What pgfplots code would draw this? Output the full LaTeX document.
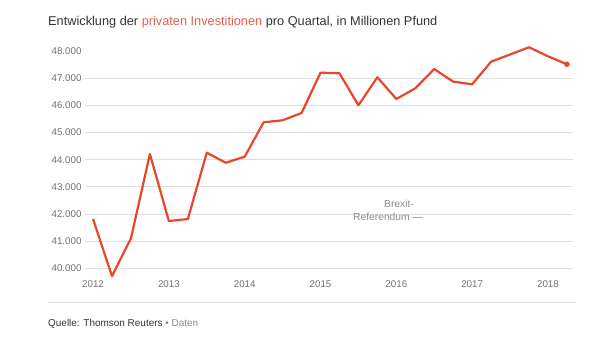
\documentclass[border=0pt]{standalone}
\usepackage{fontspec}
\setmainfont{Liberation Sans}
\usepackage{pgfplots}
\pgfplotsset{compat=1.18}
\definecolor{linecol}{HTML}{E8472C}
\definecolor{titlered}{HTML}{E0604F}
\definecolor{gridcol}{HTML}{DEDEDE}
\definecolor{tickcol}{HTML}{707070}
\definecolor{titlecol}{HTML}{333333}
\definecolor{annocol}{HTML}{8A8A8A}
\begin{document}
\begin{tikzpicture}
\path[use as bounding box] (0,0) rectangle (603bp,-346bp);
\begin{axis}[
  at={(85bp,-279.2bp)}, anchor=south west,
  scale only axis, width=488bp, height=236.2bp,
  xmin=2011.894, xmax=2018.33,
  ymin=39600, ymax=48300,
  scaled y ticks=false,
  axis line style={draw=none},
  clip=false,
  xtick={2012,2013,2014,2015,2016,2017,2018},
  xticklabels={2012,2013,2014,2015,2016,2017,2018},
  ytick={40000,41000,42000,43000,44000,45000,46000,47000},
  yticklabels={40.000,41.000,42.000,43.000,44.000,45.000,46.000,47.000},
  extra y ticks={48000},
  extra y tick labels={48.000},
  extra y tick style={grid=none},
  ymajorgrids,
  major grid style={gridcol, line width=0.8bp},
  tick style={draw=none},
  yticklabel style={font=\fontsize{9.8}{11}\selectfont, text=tickcol, anchor=east, xshift=0bp},
  xticklabel style={font=\fontsize{9.8}{11}\selectfont, text=tickcol, anchor=center, yshift=-5bp},
]
\addplot[linecol, line width=2.2bp, line join=round, mark=none] coordinates {
(2012.00,41815) (2012.25,39716) (2012.50,41105) (2012.75,44211)
(2013.00,41743) (2013.25,41816) (2013.50,44260) (2013.75,43890)
(2014.00,44112) (2014.25,45380) (2014.50,45453) (2014.75,45722)
(2015.00,47207) (2015.25,47185) (2015.50,46006) (2015.75,47037)
(2016.00,46238) (2016.25,46632) (2016.50,47343) (2016.75,46876)
(2017.00,46780) (2017.25,47612) (2017.50,47878) (2017.75,48143)
(2018.00,47812) (2018.25,47517)
};
\addplot[linecol, only marks, mark=*, mark size=2.5bp] coordinates {(2018.25,47517)};
\end{axis}
\node[anchor=base west, inner sep=0, text=titlecol, font=\fontsize{12.8}{14}\selectfont] at (48bp,-25bp)
  {Entwicklung der \textcolor{titlered}{privaten Investitionen} pro Quartal, in Millionen Pfund};
\node[anchor=base east, inner sep=0, text=annocol, font=\fontsize{10.3}{12}\selectfont] at (414bp,-207bp) {Brexit-};
\node[anchor=base east, inner sep=0, text=annocol, font=\fontsize{10.3}{12}\selectfont] at (423bp,-220.5bp) {Referendum —};
\draw[gridcol, line width=0.9bp] (48bp,-302.3bp) -- (575.7bp,-302.3bp);
\node[anchor=base west, inner sep=0, text=titlecol, font=\fontsize{10}{12}\selectfont] at (48bp,-326bp)
  {Quelle: Thomson Reuters \textcolor{annocol}{• Daten}};
\end{tikzpicture}
\end{document}
